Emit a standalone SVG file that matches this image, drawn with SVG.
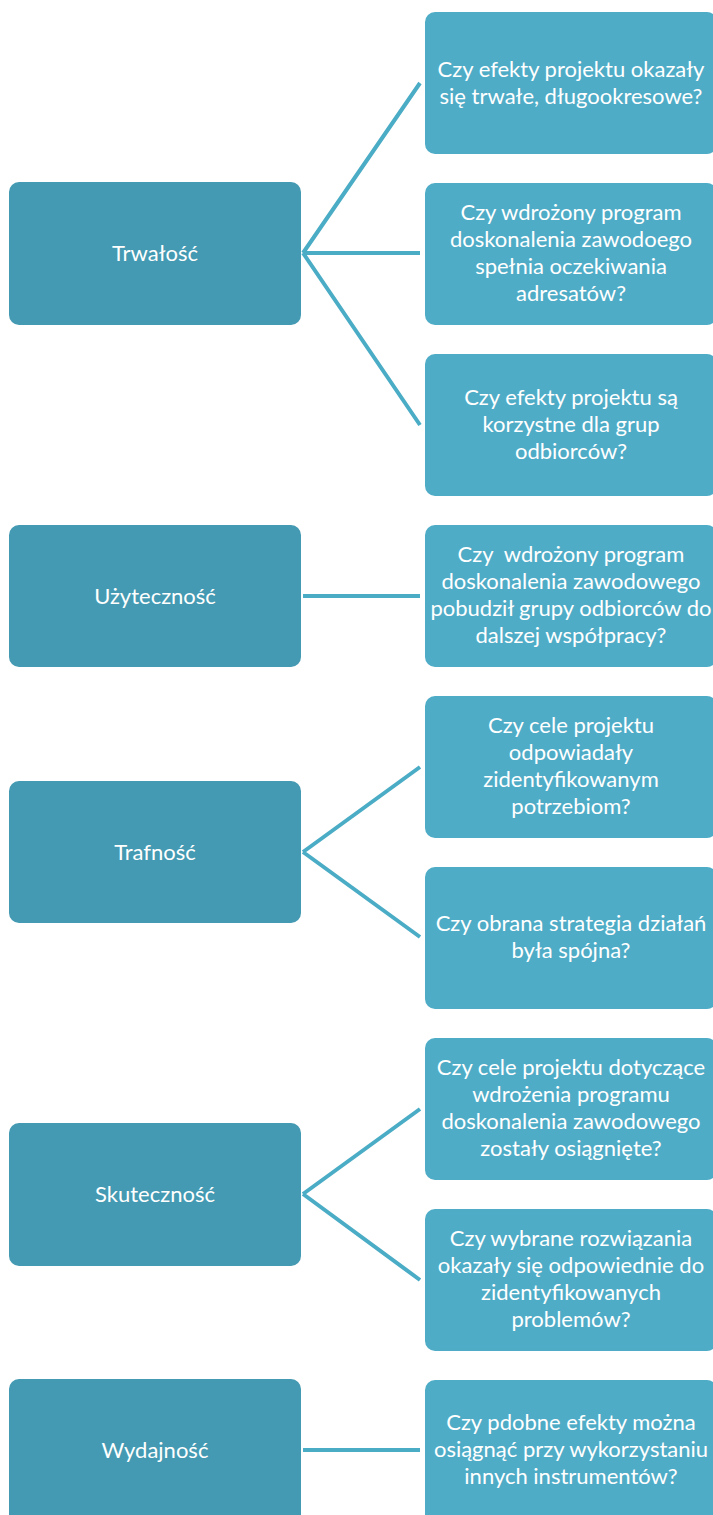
<svg xmlns="http://www.w3.org/2000/svg" width="713" height="1515" viewBox="0 0 713 1515">
<style>
.l{fill:#449AB2}
.r{fill:#4FACC7}
.t{font-family:Lato,"Open Sans","Liberation Sans",sans-serif;font-size:22px;fill:#ffffff;text-anchor:middle;white-space:pre}
.c{stroke:#4BACC6;stroke-width:4;fill:none}
</style>
<rect width="713" height="1515" fill="#ffffff"/>
<g id="connectors">
<path class="c" d="M303 253 L420 83 M303 253 L420 253 M303 253 L420 425"/>
<path class="c" d="M303 596 L420 596"/>
<path class="c" d="M303 852 L420 767 M303 852 L420 937"/>
<path class="c" d="M303 1194 L420 1109 M303 1194 L420 1280"/>
<path class="c" d="M303 1450 L420 1450"/>
</g>
<g id="trwalosc"><rect class="l" x="9" y="182" width="292" height="143" rx="10"/><text class="t" x="155" y="261">Trwałość</text></g>
<g id="q1"><rect class="r" x="425" y="12" width="292" height="142" rx="10"/><text class="t" x="571" y="77">Czy efekty projektu okazały</text><text class="t" x="571" y="104">się trwałe, długookresowe?</text></g>
<g id="q2"><rect class="r" x="425" y="183" width="292" height="142" rx="10"/><text class="t" x="571" y="220">Czy wdrożony program</text><text class="t" x="571" y="247">doskonalenia zawodoego</text><text class="t" x="571" y="274">spełnia oczekiwania</text><text class="t" x="571" y="301">adresatów?</text></g>
<g id="q3"><rect class="r" x="425" y="354" width="292" height="142" rx="10"/><text class="t" x="571" y="405">Czy efekty projektu są</text><text class="t" x="571" y="432">korzystne dla grup</text><text class="t" x="571" y="459">odbiorców?</text></g>
<g id="uzytecznosc"><rect class="l" x="9" y="525" width="292" height="142" rx="10"/><text class="t" x="155" y="604">Użyteczność</text></g>
<g id="q4"><rect class="r" x="425" y="525" width="292" height="142" rx="10"/><text class="t" x="571" y="562">Czy  wdrożony program</text><text class="t" x="571" y="589">doskonalenia zawodowego</text><text class="t" x="571" y="616">pobudził grupy odbiorców do</text><text class="t" x="571" y="643">dalszej współpracy?</text></g>
<g id="trafnosc"><rect class="l" x="9" y="781" width="292" height="142" rx="10"/><text class="t" x="155" y="860">Trafność</text></g>
<g id="q5"><rect class="r" x="425" y="696" width="292" height="142" rx="10"/><text class="t" x="571" y="733">Czy cele projektu</text><text class="t" x="571" y="760">odpowiadały</text><text class="t" x="571" y="787">zidentyfikowanym</text><text class="t" x="571" y="814">potrzebiom?</text></g>
<g id="q6"><rect class="r" x="425" y="867" width="292" height="142" rx="10"/><text class="t" x="571" y="931">Czy obrana strategia działań</text><text class="t" x="571" y="958">była spójna?</text></g>
<g id="skutecznosc"><rect class="l" x="9" y="1123" width="292" height="143" rx="10"/><text class="t" x="155" y="1202">Skuteczność</text></g>
<g id="q7"><rect class="r" x="425" y="1038" width="292" height="142" rx="10"/><text class="t" x="571" y="1075">Czy cele projektu dotyczące</text><text class="t" x="571" y="1102">wdrożenia programu</text><text class="t" x="571" y="1129">doskonalenia zawodowego</text><text class="t" x="571" y="1156">zostały osiągnięte?</text></g>
<g id="q8"><rect class="r" x="425" y="1209" width="292" height="142" rx="10"/><text class="t" x="571" y="1246">Czy wybrane rozwiązania</text><text class="t" x="571" y="1273">okazały się odpowiednie do</text><text class="t" x="571" y="1300">zidentyfikowanych</text><text class="t" x="571" y="1327">problemów?</text></g>
<g id="wydajnosc"><rect class="l" x="9" y="1379" width="292" height="150" rx="10"/><text class="t" x="155" y="1458">Wydajność</text></g>
<g id="q9"><rect class="r" x="425" y="1380" width="292" height="150" rx="10"/><text class="t" x="571" y="1430">Czy pdobne efekty można</text><text class="t" x="571" y="1457">osiągnąć przy wykorzystaniu</text><text class="t" x="571" y="1484">innych instrumentów?</text></g>
</svg>
